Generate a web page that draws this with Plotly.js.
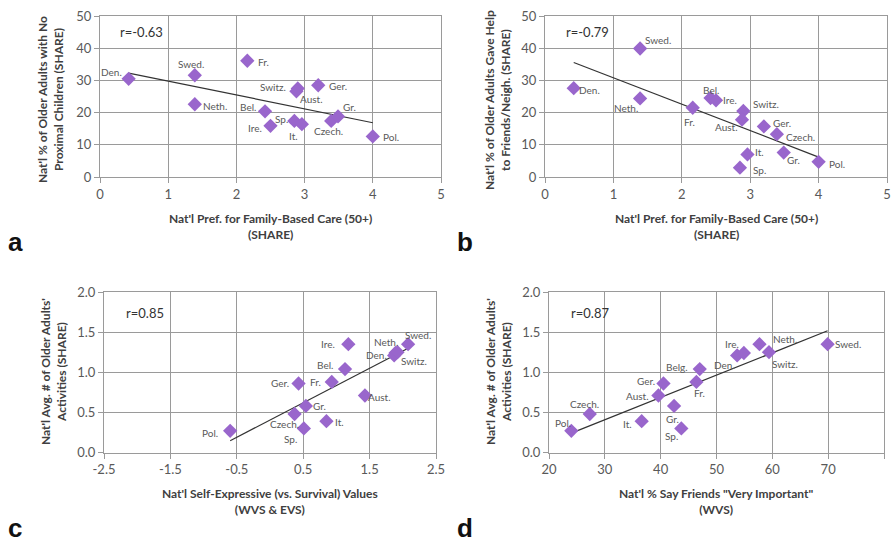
<!DOCTYPE html>
<html>
<head>
<meta charset="utf-8">
<script src="https://cdn.plot.ly/plotly-3.0.1.min.js"></script>
<style>html,body{margin:0;padding:0;background:#fff;}#chart{width:891px;height:542px;}</style>
</head>
<body>
<div id="chart"></div>
<script>
// ---- Data ----
const countries = ['Den.','Swed.','Neth.','Fr.','Bel.','Ire.','Sp.','It.','Switz.','Aust.','Ger.','Czech.','Gr.','Pol.'];
const countriesD = ['Den.','Swed.','Neth.','Fr.','Belg.','Ire.','Sp.','It.','Switz.','Aust.','Ger.','Czech.','Gr.','Pol.'];
const famPref = [0.42,1.39,1.39,2.16,2.42,2.50,2.85,2.96,2.90,2.88,3.20,3.39,3.49,4.00];
const noProxChildren = [30.5,31.6,22.6,36.1,20.4,15.9,17.4,16.4,27.5,26.6,28.5,17.4,18.8,12.6];
const gaveHelp = [27.6,39.9,24.4,21.5,24.5,23.8,2.9,7.0,20.5,17.8,15.7,13.3,7.6,4.7];
const selfExpr = [1.87,2.08,1.89,0.93,1.13,1.18,0.51,0.85,1.92,1.43,0.43,0.37,0.54,-0.60];
const activities = [1.21,1.35,1.24,0.88,1.04,1.35,0.30,0.39,1.25,0.71,0.86,0.48,0.58,0.27];
const friendsImp = [53.7,69.9,54.9,46.4,47.0,57.7,43.7,36.6,59.4,39.6,40.5,27.3,42.4,24.0];
const rValues = ['r=-0.63','r=-0.79','r=0.85','r=0.87'];
const panelLetters = ['a','b','c','d'];
const xTickValsAB = [0,1,2,3,4,5];
const yTickValsAB = [0,10,20,30,40,50];
const xTickValsC = [-2.5,-1.5,-0.5,0.5,1.5,2.5];
const xTickTextC = ['-2.5','-1.5','-0.5','0.5','1.5','2.5'];
const xTickValsD = [20,30,40,50,60,70,80];
const yTickValsCD = [0,0.5,1.0,1.5,2.0];
const yTickTextCD = ['0.0','0.5','1.0','1.5','2.0'];

// ---- label offsets (pixels), order as countries ----
const offA = [[-17,7],[-4,11],[20,-2],[16,-1],[-17,4],[-16,-2],[-13,2],[-8,-12],[-25,1],[15,-8],[20,-1],[-3,-10],[11,9],[18,-1]];
const offB = [[16,-2],[18,9],[-14,-10],[-3,-14],[0,8],[14,0],[20,-2],[12,2],[23,7],[-15,-7],[18,3],[24,-3],[10,-7],[18,-2]];
const offC = [[-18,0],[10,9],[-10,11],[-16,0],[-20,4],[-20,0],[-13,-11],[13,-1],[17,-9],[15,-1],[-19,0],[-10,-10],[14,0],[-20,-2]];
const offD = [[-13,-10],[20,0],[41,14],[3,-11],[-23,2],[-27,0],[-10,-8],[-14,-3],[16,-12],[-21,0],[-17,2],[-5,10],[-2,-13],[-8,8]];

function fit(xs, ys){
  const n = xs.length;
  const mx = xs.reduce((a,b)=>a+b,0)/n, my = ys.reduce((a,b)=>a+b,0)/n;
  let sxy=0, sxx=0;
  for(let i=0;i<n;i++){sxy+=(xs[i]-mx)*(ys[i]-my); sxx+=(xs[i]-mx)**2;}
  const b = sxy/sxx, a = my - b*mx;
  const x0 = Math.min(...xs), x1 = Math.max(...xs);
  return {x:[x0,x1], y:[a+b*x0, a+b*x1]};
}

const purple = '#9966CC';
const FONT = 'Lato, "Open Sans", sans-serif';
const panels = [
  {x:famPref, y:noProxChildren, labels:countries, off:offA, xa:'x', ya:'y'},
  {x:famPref, y:gaveHelp, labels:countries, off:offB, xa:'x2', ya:'y2'},
  {x:selfExpr, y:activities, labels:countries, off:offC, xa:'x3', ya:'y3'},
  {x:friendsImp, y:activities, labels:countriesD, off:offD, xa:'x4', ya:'y4'}
];

const traces = [];
const annotations = [];
panels.forEach((p,k)=>{
  const f = fit(p.x, p.y);
  traces.push({x:f.x, y:f.y, xaxis:p.xa, yaxis:p.ya, mode:'lines', type:'scatter',
    line:{color:'#333333', width:1.2}, hoverinfo:'skip', showlegend:false});
  traces.push({x:p.x, y:p.y, xaxis:p.xa, yaxis:p.ya, mode:'markers', type:'scatter',
    marker:{symbol:'diamond', size:11, color:purple}, text:p.labels, showlegend:false});
  p.labels.forEach((lab,i)=>{
    annotations.push({x:p.x[i], y:p.y[i], xref:p.xa, yref:p.ya, text:lab, showarrow:false,
      xshift:p.off[i][0], yshift:p.off[i][1], font:{family:FONT, size:10, color:'#595959'}});
  });
  annotations.push({x:0.123, y:k<2?0.90:0.87, xref:p.xa+' domain', yref:p.ya+' domain',
    text:rValues[k], showarrow:false, xanchor:'center', yanchor:'middle',
    font:{family:FONT, size:13, color:'#333333'}});
});

// axis titles and panel letters (paper pixel-based)
const W=891, H=542;
function px(x){return x/W;} function py(y){return 1-y/H;}
const yTitles = [
  {t:"Nat'l % of Older Adults with No<br>Proximal Children (SHARE)", x:51, y:100},
  {t:"Nat'l % of Older Adults Gave Help<br>to Friends/Neigh. (SHARE)", x:498, y:100},
  {t:"Nat'l Avg. # of Older Adults'<br>Activities (SHARE)", x:53, y:372},
  {t:"Nat'l Avg. # of Older Adults'<br>Activities (SHARE)", x:498, y:372}
];
yTitles.forEach(o=>annotations.push({x:px(o.x), y:py(o.y), xref:'paper', yref:'paper', text:'<b>'+o.t+'</b>',
  textangle:-90, showarrow:false, xanchor:'center', yanchor:'middle',
  font:{family:FONT, size:12, color:'#404040'}}));
const xTitles = [
  {t:"Nat'l Pref. for Family-Based Care (50+)<br>(SHARE)", x:270, y:226},
  {t:"Nat'l Pref. for Family-Based Care (50+)<br>(SHARE)", x:716, y:226},
  {t:"Nat'l Self-Expressive (vs. Survival) Values<br>(WVS &amp; EVS)", x:270, y:501},
  {t:"Nat'l % Say Friends \"Very Important\"<br>(WVS)", x:716, y:501}
];
xTitles.forEach(o=>annotations.push({x:px(o.x), y:py(o.y), xref:'paper', yref:'paper', text:'<b>'+o.t+'</b>',
  showarrow:false, xanchor:'center', yanchor:'middle',
  font:{family:FONT, size:12, color:'#404040'}}));
const letterPos = [[15,242],[465,242],[15,528],[465,528]];
panelLetters.forEach((L,i)=>annotations.push({x:px(letterPos[i][0]), y:py(letterPos[i][1]), xref:'paper', yref:'paper',
  text:'<b>'+L+'</b>', showarrow:false, xanchor:'center', yanchor:'middle',
  font:{family:'"Liberation Sans", Arial, sans-serif', size:26, color:'#111111'}}));

function axis(domain, range, tickvals, ticktext, anchor){
  const a = {domain:domain, range:range, tickvals:tickvals, showgrid:true, gridcolor:'#9a9a9a', gridwidth:1,
    zeroline:false, showline:true, linecolor:'#9a9a9a', linewidth:1, mirror:true,
    ticks:'outside', ticklen:5, tickcolor:'#9a9a9a', anchor:anchor,
    tickfont:{family:FONT, size:13, color:'#595959'}, fixedrange:true};
  if(ticktext) a.ticktext = ticktext;
  return a;
}

const layout = {
  width:W, height:H, margin:{l:0,r:0,t:0,b:0}, paper_bgcolor:'#fff', plot_bgcolor:'#fff',
  showlegend:false, hovermode:'closest',
  xaxis: axis([px(100),px(441)], [0,5], xTickValsAB, null, 'y'),
  yaxis: axis([py(177),py(16)], [0,50], yTickValsAB, null, 'x'),
  xaxis2: axis([px(545),px(887)], [0,5], xTickValsAB, null, 'y2'),
  yaxis2: axis([py(177),py(16)], [0,50], yTickValsAB, null, 'x2'),
  xaxis3: axis([px(104),px(436)], [-2.5,2.5], xTickValsC, xTickTextC, 'y3'),
  yaxis3: axis([py(452.5),py(292)], [0,2], yTickValsCD, yTickTextCD, 'x3'),
  xaxis4: axis([px(549),px(884)], [20,80], xTickValsD, null, 'y4'),
  yaxis4: axis([py(452.5),py(292)], [0,2], yTickValsCD, yTickTextCD, 'x4'),
  annotations: annotations
};

Plotly.newPlot('chart', traces, layout, {displayModeBar:false, staticPlot:true});
</script>
</body>
</html>
